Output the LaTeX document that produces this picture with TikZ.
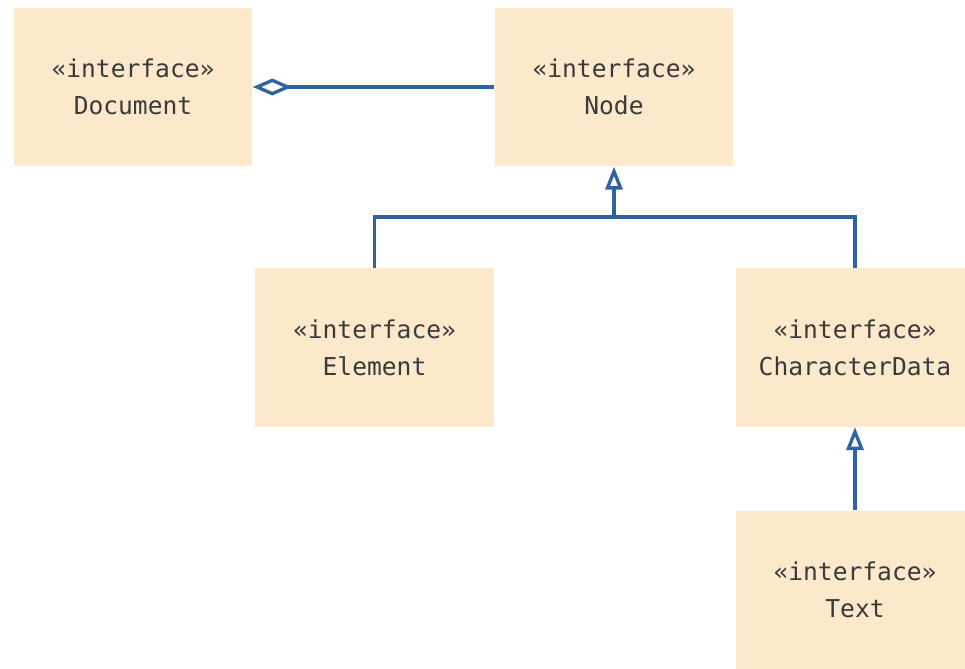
\documentclass[tikz,border=0pt]{standalone}
\usepackage{fontspec}
\setmonofont{DejaVu Sans Mono}
\usepackage{tikz}
\usetikzlibrary{positioning,arrows.meta}
\definecolor{ifpeach}{HTML}{FCE8CB}
\definecolor{ifblue}{HTML}{2F62A0}
\definecolor{iftext}{HTML}{3A3A3A}
\newcommand{\iface}[1]{\guillemotleft interface\guillemotright\\#1}

\begin{document}
\begin{tikzpicture}[x=0.02cm,y=-0.02cm,
  iface/.style={fill=ifpeach,inner sep=0pt,minimum width=4.78cm,minimum height=3.17cm,
    align=center,text=iftext,font=\ttfamily\fontsize{14}{21}\selectfont},
  link/.style={draw=ifblue,line width=1.9pt},
  inherit/.style={link,-{Triangle[open,length=0.46cm,width=0.34cm,line width=1.9pt]}},
  aggr/.style={link,{Diamond[open,length=0.78cm,width=0.34cm,line width=1.9pt]}-}]
  \useasboundingbox (0,0) rectangle (965,669);
  \node[iface] (doc)  at (133,87)    {\iface{Document}};
  \node[iface] (node) at (614,87)    {\iface{Node}};
  \node[iface] (elem) at (374.5,347.5) {\iface{Element}};
  \node[iface] (cdat) at (855,347.5) {\iface{CharacterData}};
  \node[iface] (text) at (855,590)   {\iface{Text}};
  \coordinate (bus) at (614,217);
  \draw[aggr] (doc.east) -- (node.west);
  \draw[link] (elem.north) |- (bus) -| (cdat.north);
  \draw[inherit] (bus) -- (node.south);
  \draw[inherit] (text.north) -- (cdat.south);
\end{tikzpicture}
\end{document}
